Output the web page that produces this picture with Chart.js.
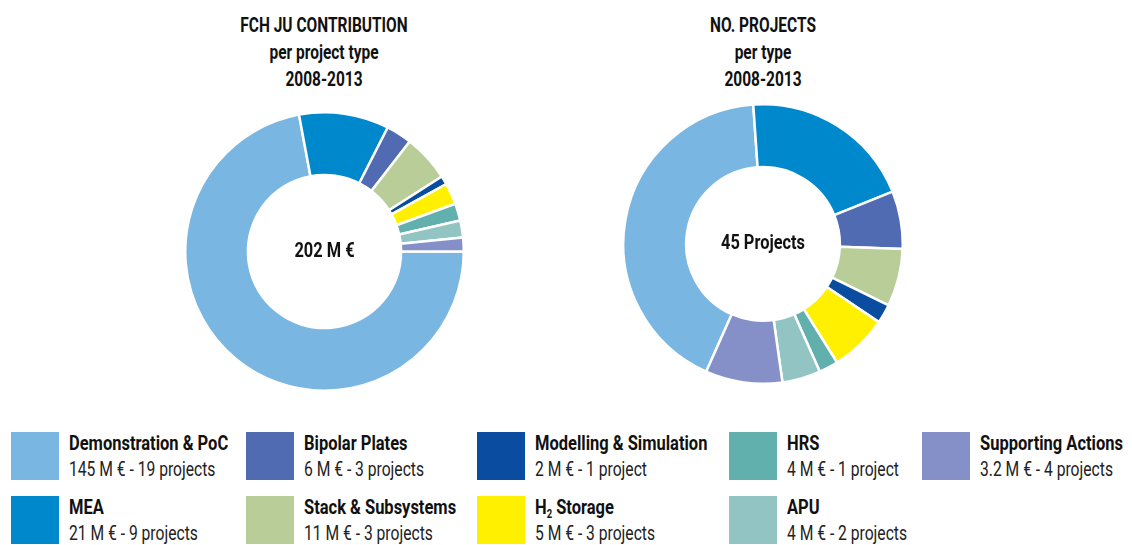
<!DOCTYPE html>
<html>
<head>
<meta charset="utf-8">
<script src="https://cdn.jsdelivr.net/npm/chart.js@4.4.1/dist/chart.umd.min.js"></script>
<style>
  body { margin: 0; width: 1132px; height: 545px; background: #fff; position: relative; overflow: hidden;
         font-family: Roboto, "DejaVu Sans Condensed", sans-serif; color: #111; }
  .title { position: absolute; width: 300px; text-align: center; font-weight: bold; font-size: 20.5px; line-height: 27px; top: 12px; }
  .title div { white-space: nowrap; transform: scaleX(0.755); }
  canvas { position: absolute; }
  #legend { position: absolute; left: 11px; top: 432px; display: grid; grid-auto-flow: column;
            grid-template-rows: 48px 48px; row-gap: 16px; grid-template-columns: 235px 231px 252px 193px 210px; }
  .item { display: flex; }
  .sw { width: 48px; height: 48px; flex: none; }
  .txt { margin-left: 10px; margin-top: -2px; white-space: nowrap; }
  .txt b { display: block; font-size: 21px; line-height: 26px; transform: scaleX(0.785); transform-origin: left; }
  .txt span { display: block; font-size: 21px; line-height: 27px; color: #222; transform: scaleX(0.745); transform-origin: left; }
  sub { font-size: 12px; vertical-align: -4px; line-height: 0; }
</style>
</head>
<body>
<div class="title" style="left:174px"><div>FCH JU CONTRIBUTION</div><div>per project type</div><div>2008-2013</div></div>
<div class="title" style="left:613px"><div>NO. PROJECTS</div><div>per type</div><div>2008-2013</div></div>
<canvas id="left" width="281" height="281" style="left:184px; top:111px"></canvas>
<canvas id="right" width="282" height="282" style="left:622px; top:103px"></canvas>
<div id="legend"></div>
<script>
var categories = ["Demonstration & PoC", "MEA", "Bipolar Plates", "Stack & Subsystems",
    "Modelling & Simulation", "H2 Storage", "HRS", "APU", "Supporting Actions"];
var contribution = [145, 21, 6, 11, 2, 5, 4, 4, 3.2];
var projects = [19, 9, 3, 3, 1, 3, 1, 2, 4];
var colors = ["#7ab6e2", "#0088cc", "#516bb3", "#b8cd97", "#0a4c9f", "#fff000", "#62b0ae", "#92c4c4", "#8490c7"];

var centerText = {
    id: 'centerText',
    afterDraw: function (chart) {
        var ctx = chart.ctx;
        var a = chart.chartArea;
        ctx.save();
        ctx.translate((a.left + a.right) / 2, (a.top + a.bottom) / 2);
        ctx.scale(0.78, 1);
        ctx.font = "bold 21px Roboto, 'DejaVu Sans Condensed', sans-serif";
        ctx.fillStyle = "#111";
        ctx.textAlign = "center";
        ctx.textBaseline = "middle";
        ctx.fillText(chart.options.plugins.centerText.text, 0, 0);
        ctx.restore();
    }
};

function makeDonut(id, values, rotation, text) {
    return new Chart(document.getElementById(id), {
        type: 'doughnut',
        data: {
            labels: categories,
            datasets: [{
                data: values,
                backgroundColor: colors,
                borderColor: "#ffffff",
                borderWidth: 2.5
            }]
        },
        options: {
            responsive: false,
            animation: false,
            rotation: rotation,
            cutout: '55%',
            layout: { padding: 0 },
            plugins: {
                legend: { display: false },
                tooltip: { enabled: false },
                centerText: { text: text }
            }
        },
        plugins: [centerText]
    });
}

makeDonut('left', contribution, 90, "202 M €");
makeDonut('right', projects, 204, "45 Projects");

// legend
for (var i = 0; i < categories.length; i++) {
    var name = categories[i].replace("H2", "H<sub>2</sub>");
    var p = projects[i] + (projects[i] == 1 ? " project" : " projects");
    var item = `<div class="item"><div class="sw" style="background:${colors[i]}"></div>
        <div class="txt"><b>${name}</b><span>${contribution[i]} M € - ${p}</span></div></div>`;
    document.getElementById("legend").insertAdjacentHTML("beforeend", item);
}
</script>
</body>
</html>
